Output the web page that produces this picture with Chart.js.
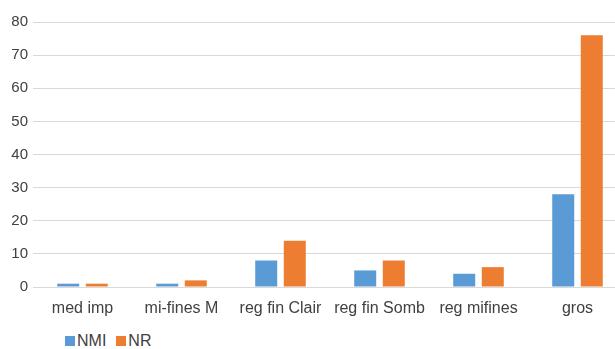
<!DOCTYPE html>
<html>
<head>
<meta charset="utf-8">
<script src="https://cdn.jsdelivr.net/npm/chart.js@4"></script>
<style>
  html, body { margin: 0; padding: 0; background: #fff; overflow: hidden; width: 615px; height: 349px; }
  #wrap { position: absolute; left: 0; top: 0; width: 627px; height: 325px; }
  #legend { position: absolute; left: 65px; top: 332px; font-family: "Liberation Sans", Arial, sans-serif; font-size: 16px; color: #404040; display: flex; align-items: center; }
  .item { display: flex; align-items: center; margin-right: 10px; }
  .sw { width: 10px; height: 10px; margin-right: 2px; }
</style>
</head>
<body>
<div id="wrap"><canvas id="c"></canvas></div>
<div id="legend"></div>
<script>
const categories = ["med imp", "mi-fines M", "reg fin Clair", "reg fin Somb", "reg mifines", "gros"];
const seriesNames = ["NMI", "NR"];
const nmiValues = [1, 1, 8, 5, 4, 28];
const nrValues = [1, 2, 14, 8, 6, 76];
const colors = ["#5B9BD5", "#ED7D31"];

const textColor = "#404040";
const fontFamily = "'Liberation Sans', Arial, sans-serif";

new Chart(document.getElementById("c"), {
  type: "bar",
  data: {
    labels: categories,
    datasets: [
      { label: seriesNames[0], data: nmiValues, backgroundColor: colors[0], borderWidth: 0 },
      { label: seriesNames[1], data: nrValues, backgroundColor: colors[1], borderWidth: 0 }
    ]
  },
  options: {
    responsive: true,
    maintainAspectRatio: false,
    animation: false,
    datasets: { bar: { categoryPercentage: 0.577, barPercentage: 0.77 } },
    layout: { padding: { top: 22, left: 0, right: 0, bottom: 0 } },
    plugins: { legend: { display: false }, tooltip: { enabled: false } },
    scales: {
      x: {
        grid: { display: false, drawTicks: false },
        border: { display: true, color: "#d9d9d9", width: 1 },
        ticks: { color: textColor, font: { family: fontFamily, size: 16 }, padding: 12, maxRotation: 0, autoSkip: false },
        afterFit: s => { s.height = 38; }
      },
      y: {
        min: 0, max: 80,
        ticks: { stepSize: 10, color: textColor, font: { family: fontFamily, size: 15 }, padding: 5 },
        grid: { color: "#d9d9d9", lineWidth: 1, drawTicks: false },
        border: { display: false },
        afterFit: s => { s.width = 33; }
      }
    }
  }
});

const lg = document.getElementById("legend");
seriesNames.forEach((n, i) => {
  const it = document.createElement("div");
  it.className = "item";
  const sw = document.createElement("span");
  sw.className = "sw";
  sw.style.background = colors[i];
  const tx = document.createElement("span");
  tx.textContent = n;
  it.appendChild(sw); it.appendChild(tx);
  lg.appendChild(it);
});
</script>
</body>
</html>
